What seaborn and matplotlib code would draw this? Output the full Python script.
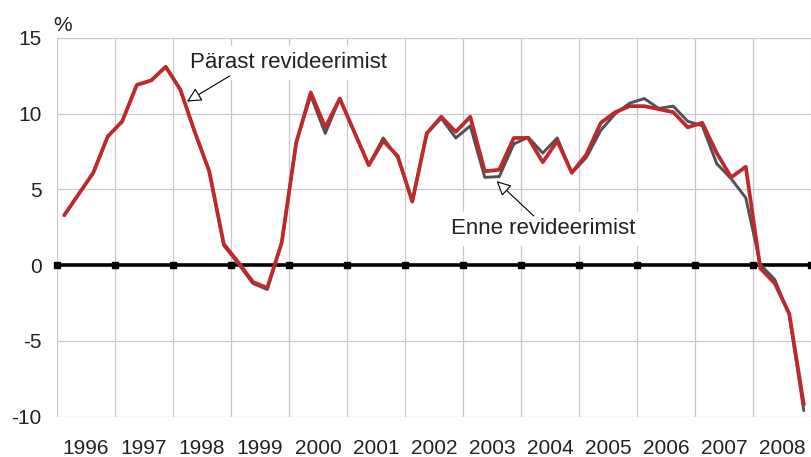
import numpy as np
import pandas as pd
import seaborn as sns
import matplotlib.pyplot as plt

# quarterly growth, 1996Q1 .. 2008Q4
years = list(range(1996, 2009))
quarters = [1, 2, 3, 4]

after_rev = [3.3, 4.7, 6.1, 8.5, 9.5, 11.9, 12.2, 13.1,
             11.6, 8.8, 6.2, 1.4, 0.2, -1.1, -1.5, 1.5,
             8.1, 11.4, 9.1, 11.0, 8.8, 6.6, 8.2, 7.2,
             4.2, 8.7, 9.8, 8.8, 9.8, 6.2, 6.3, 8.4,
             8.4, 6.8, 8.2, 6.1, 7.3, 9.4, 10.1, 10.5,
             10.5, 10.3, 10.1, 9.1, 9.4, 7.4, 5.8, 6.5,
             -0.2, -1.2, -3.2, -9.2]
before_rev = [3.3, 4.7, 6.1, 8.5, 9.5, 11.9, 12.2, 13.1,
              11.6, 8.8, 6.2, 1.3, 0.1, -1.2, -1.6, 1.5,
              8.1, 11.2, 8.7, 11.0, 8.8, 6.6, 8.4, 7.1,
              4.2, 8.7, 9.7, 8.4, 9.2, 5.8, 5.85, 8.0,
              8.45, 7.4, 8.4, 6.1, 7.1, 8.9, 10.0, 10.7,
              11.0, 10.35, 10.5, 9.5, 9.2, 6.7, 5.7, 4.45,
              0.05, -0.95, -3.3, -9.6]

label_after = "Pärast revideerimist"
label_before = "Enne revideerimist"

pos = [y + (q - 0.5) / 4 for y in years for q in quarters]
df = pd.DataFrame({"t": pos, "after": after_rev, "before": before_rev})

sns.set_style("white")
plt.rcParams["font.family"] = ["Liberation Sans", "DejaVu Sans"]
plt.rcParams["axes.unicode_minus"] = False

fig = plt.figure(figsize=(8.12, 4.57), dpi=100)
ax = fig.add_axes([0.0702, 0.0882, 0.9286, 0.8287])

grid_c = "#C8C9D0"
bounds = list(range(1996, 2010))
for b in bounds:
    ax.axvline(b, color=grid_c, lw=0.9, zorder=0)
for v in [-10, -5, 5, 10, 15]:
    ax.axhline(v, color=grid_c, lw=0.9, zorder=0)

ax.axhline(0, color="black", lw=2.6, zorder=2)
ax.plot(bounds, [0] * len(bounds), "s", color="black", ms=4, zorder=2, clip_on=False)

sns.lineplot(data=df, x="t", y="before", color="#4D5257", lw=2.1, ax=ax, zorder=3)
sns.lineplot(data=df, x="t", y="after", color="#C0292B", lw=2.7, ax=ax, zorder=4)

ax.set_xlim(1996, 2009)
ax.set_ylim(-10, 15)
ax.set_xticks(bounds)
ax.set_xticklabels([])
ax.set_xticks([y + 0.5 for y in years], minor=True)
ax.set_xticklabels([str(y) for y in years], minor=True)
ax.set_yticks([-10, -5, 0, 5, 10, 15])
ax.tick_params(axis="x", which="both", length=0, pad=16, labelsize=15, colors="#222222")
ax.tick_params(axis="y", length=0, pad=11, labelsize=15, colors="#222222")
ax.set_xlabel("")
ax.set_ylabel("")
for s in ax.spines.values():
    s.set_visible(False)

fig.text(0.077, 0.945, "%", fontsize=15, color="#222222", ha="center", va="center")

box = dict(boxstyle="square,pad=0.3", facecolor="white", edgecolor="none")
arrow = dict(arrowstyle="-|>", facecolor="white", edgecolor="black", lw=0.8,
             mutation_scale=22, shrinkA=0, shrinkB=0)

ax.text(1998.30, 13.35, label_after, fontsize=16, color="#222222",
        ha="left", va="center", bbox=box, zorder=5)
ax.annotate("", xy=(1998.24, 10.8), xytext=(1998.98, 12.5), arrowprops=arrow, zorder=5)

ax.text(2002.80, 2.4, label_before, fontsize=16, color="#222222",
        ha="left", va="center", bbox=box, zorder=5)
ax.annotate("", xy=(2003.58, 5.55), xytext=(2004.22, 3.25), arrowprops=arrow, zorder=5)

fig.savefig("out.png", dpi=100)
